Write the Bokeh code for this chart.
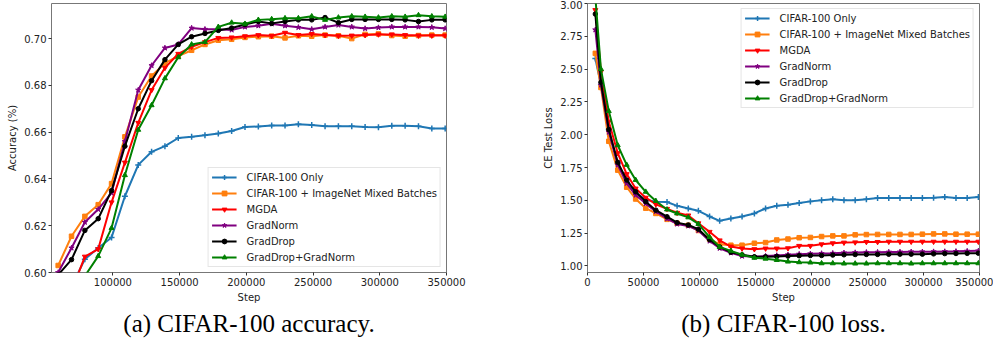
from bokeh.plotting import figure
from bokeh.layouts import row
from bokeh.models import FixedTicker, BasicTickFormatter, PrintfTickFormatter, Range1d
from bokeh.embed import file_html
from bokeh.resources import INLINE

# ---------------- data ----------------
SERIES = ["CIFAR-100 Only", "CIFAR-100 + ImageNet Mixed Batches", "MGDA",
          "GradNorm", "GradDrop", "GradDrop+GradNorm"]
COLORS = ["#1f77b4", "#ff7f0e", "#ff0000", "#800080", "#000000", "#008000"]
MARKERS = ["cross", "square", "inverted_triangle", "star", "circle", "triangle"]

ACC_STEPS = [59000, 69000, 79000, 89000, 99000, 109000, 119000, 129000, 139000, 149000,
             159000, 169000, 179000, 189000, 199000, 209000, 219000, 229000, 239000, 249000,
             259000, 269000, 279000, 289000, 299000, 309000, 319000, 329000, 339000, 349000]

acc_only = [0.575, 0.594, 0.6057, 0.6105, 0.6150, 0.6326, 0.6460, 0.6516, 0.6540, 0.6575,
            0.6580, 0.6587, 0.6594, 0.6605, 0.6622, 0.6624, 0.6628, 0.6628, 0.6634, 0.6631,
            0.6625, 0.6625, 0.6625, 0.6622, 0.6621, 0.6627, 0.6627, 0.6625, 0.6616, 0.6616]
acc_mixed = [0.603, 0.6155, 0.6240, 0.6290, 0.6380, 0.6580, 0.6750, 0.6840, 0.6895, 0.6925,
             0.6950, 0.6975, 0.6993, 0.6997, 0.7005, 0.7008, 0.7010, 0.7003, 0.7012, 0.7010,
             0.7015, 0.7012, 0.7000, 0.7018, 0.7020, 0.7013, 0.7010, 0.7013, 0.7015, 0.7015]
acc_mgda = [0.570, 0.592, 0.6068, 0.6100, 0.6300, 0.6470, 0.6640, 0.6780, 0.6875, 0.6935,
            0.6965, 0.6985, 0.7003, 0.7005, 0.7010, 0.7015, 0.7012, 0.7025, 0.7015, 0.7020,
            0.7015, 0.7012, 0.7013, 0.7015, 0.7018, 0.7018, 0.7015, 0.7013, 0.7013, 0.7013]
acc_gradnorm = [0.600, 0.6105, 0.6215, 0.6270, 0.6340, 0.6560, 0.6780, 0.6885, 0.6960, 0.6975,
                0.7045, 0.7040, 0.7040, 0.7037, 0.7050, 0.7055, 0.7063, 0.7055, 0.7048, 0.7040,
                0.7050, 0.7058, 0.7050, 0.7043, 0.7047, 0.7050, 0.7050, 0.7050, 0.7048, 0.7043]
acc_graddrop = [0.599, 0.6055, 0.6180, 0.6230, 0.6350, 0.6540, 0.6700, 0.6820, 0.6910, 0.6975,
                0.7008, 0.7022, 0.7035, 0.7045, 0.7060, 0.7073, 0.7065, 0.7073, 0.7080, 0.7080,
                0.7090, 0.7068, 0.7082, 0.7082, 0.7082, 0.7082, 0.7080, 0.7073, 0.7080, 0.7080]
acc_both = [0.560, 0.585, 0.5985, 0.6070, 0.6190, 0.6416, 0.6610, 0.6715, 0.6830, 0.6920,
            0.6975, 0.6985, 0.7050, 0.7068, 0.7063, 0.7080, 0.7083, 0.7087, 0.7087, 0.7095,
            0.7080, 0.7090, 0.7095, 0.7093, 0.7090, 0.7095, 0.7093, 0.7100, 0.7095, 0.7093]

LOSS_STEPS = [7000, 12000, 19000, 27000, 35000, 43000, 52000, 61000,
              71000, 80000, 90000, 99000, 109000, 118000, 128000, 138000,
              149000, 159000, 169000, 179000, 189000, 199000, 209000, 219000, 229000,
              239000, 249000, 259000, 269000, 279000, 289000, 299000, 309000, 319000,
              329000, 339000, 349000]

loss_only = [2.58, 2.38, 2.04, 1.78, 1.64, 1.555, 1.505, 1.49,
             1.487, 1.458, 1.438, 1.42, 1.377, 1.344, 1.362, 1.377,
             1.40, 1.438, 1.458, 1.466, 1.479, 1.492, 1.50, 1.509, 1.50, 1.50, 1.509,
             1.517, 1.517, 1.517, 1.517, 1.517, 1.52, 1.525, 1.517, 1.517, 1.525]
loss_mixed = [2.62, 2.36, 1.95, 1.73, 1.60, 1.51, 1.44, 1.40,
              1.355, 1.325, 1.31, 1.27, 1.205, 1.165, 1.158, 1.158,
              1.173, 1.178, 1.198, 1.205, 1.215, 1.217, 1.224, 1.229, 1.229, 1.237, 1.239,
              1.24, 1.24, 1.24, 1.24, 1.242, 1.244, 1.244, 1.242, 1.242, 1.242]
loss_mgda = [2.95, 2.48, 2.10, 1.86, 1.70, 1.59, 1.52, 1.47,
             1.435, 1.405, 1.385, 1.325, 1.26, 1.195, 1.148, 1.133,
             1.128, 1.133, 1.133, 1.135, 1.153, 1.153, 1.165, 1.173, 1.178, 1.18, 1.183,
             1.183, 1.185, 1.185, 1.185, 1.185, 1.185, 1.185, 1.185, 1.185, 1.185]
loss_gradnorm = [2.80, 2.38, 2.02, 1.77, 1.63, 1.54, 1.475, 1.415,
                 1.36, 1.32, 1.305, 1.27, 1.19, 1.135, 1.10, 1.075,
                 1.07, 1.075, 1.08, 1.085, 1.09, 1.093, 1.095, 1.097, 1.10, 1.102, 1.104,
                 1.105, 1.106, 1.107, 1.108, 1.108, 1.109, 1.11, 1.111, 1.113, 1.115]
loss_graddrop = [2.92, 2.40, 2.04, 1.79, 1.655, 1.565, 1.49, 1.425,
                 1.375, 1.33, 1.312, 1.28, 1.20, 1.145, 1.105, 1.085,
                 1.07, 1.07, 1.072, 1.075, 1.078, 1.08, 1.08, 1.083, 1.085, 1.087, 1.088,
                 1.088, 1.089, 1.09, 1.09, 1.09, 1.092, 1.094, 1.095, 1.096, 1.097]
loss_both = [3.05, 2.50, 2.18, 1.92, 1.77, 1.655, 1.565, 1.495,
             1.43, 1.40, 1.37, 1.32, 1.22, 1.145, 1.115, 1.085,
             1.062, 1.055, 1.045, 1.033, 1.028, 1.026, 1.02, 1.02, 1.018, 1.018, 1.018,
             1.02, 1.02, 1.02, 1.018, 1.02, 1.02, 1.02, 1.02, 1.02, 1.02]

ACC_X_TICKS = [100000, 150000, 200000, 250000, 300000, 350000]
ACC_Y_TICKS = [0.60, 0.62, 0.64, 0.66, 0.68, 0.70]
LOSS_X_TICKS = [0, 50000, 100000, 150000, 200000, 250000, 300000, 350000]
LOSS_Y_TICKS = [1.00, 1.25, 1.50, 1.75, 2.00, 2.25, 2.50, 2.75, 3.00]

ACC = [acc_only, acc_mixed, acc_mgda, acc_gradnorm, acc_graddrop, acc_both]
LOSS = [loss_only, loss_mixed, loss_mgda, loss_gradnorm, loss_graddrop, loss_both]

MSIZE = {"cross": 6, "square": 4.5, "inverted_triangle": 5, "star": 5.5, "circle": 4.5, "triangle": 5}


def make_fig(width, height, xr, yr, steps, data, xticks, yticks, ylabel, caption,
             legend_loc, top, left, right):
    p = figure(width=width, height=height, x_range=Range1d(*xr), y_range=Range1d(*yr),
               output_backend="svg", toolbar_location=None,
               title=caption, title_location="below",
               min_border_left=left, min_border_right=right, min_border_top=top,
               min_border_bottom=10)
    p.background_fill_color = "white"
    p.border_fill_color = "white"
    p.grid.visible = False
    p.outline_line_color = "#777777"
    p.outline_line_width = 1

    for name, col, mk, vals in zip(SERIES, COLORS, MARKERS, data):
        p.line(steps, vals, line_color=col, line_width=2, legend_label=name)
        if mk == "cross":
            p.scatter(steps, vals, marker=mk, size=MSIZE[mk], line_color=col,
                      line_width=1.5, legend_label=name)
        else:
            p.scatter(steps, vals, marker=mk, size=MSIZE[mk], fill_color=col,
                      line_color=col, legend_label=name)

    p.xaxis.ticker = FixedTicker(ticks=xticks)
    p.yaxis.ticker = FixedTicker(ticks=yticks)
    p.xaxis.formatter = BasicTickFormatter(use_scientific=False)
    p.yaxis.formatter = PrintfTickFormatter(format="%.2f")
    p.xaxis.axis_label = "Step"
    p.yaxis.axis_label = ylabel
    for ax in (p.xaxis[0], p.yaxis[0]):
        ax.axis_line_color = None
        ax.major_tick_line_color = "#333333"
        ax.major_tick_out = 3
        ax.major_tick_in = 0
        ax.minor_tick_line_color = None
        ax.major_label_text_font = "DejaVu Sans"
        ax.major_label_text_font_size = "10px"
        ax.major_label_text_color = "#222222"
        ax.axis_label_text_font = "DejaVu Sans"
        ax.axis_label_text_font_size = "10px"
        ax.axis_label_text_font_style = "normal"
        ax.axis_label_text_color = "#222222"
        ax.major_label_standoff = 2
        ax.axis_label_standoff = 3

    lg = p.legend[0]
    lg.location = legend_loc
    lg.margin = 5
    lg.padding = 3
    lg.spacing = 4
    lg.label_height = 12
    lg.glyph_height = 12
    lg.glyph_width = 25
    lg.label_standoff = 10
    lg.label_text_font = "DejaVu Sans"
    lg.label_text_font_size = "10px"
    lg.label_text_color = "#222222"
    lg.border_line_color = "#cccccc"
    lg.border_line_width = 1
    lg.background_fill_alpha = 0.85

    p.title.text_font = "Liberation Serif"
    p.title.text_font_size = "25px"
    p.title.text_font_style = "normal"
    p.title.text_color = "#000000"
    p.title.align = "center"
    p.title.standoff = 4
    return p


p1 = make_fig(540, 338, (54000, 350000), (0.60, 0.715), ACC_STEPS, ACC,
              ACC_X_TICKS, ACC_Y_TICKS, "Accuracy (%)", "(a) CIFAR-100 accuracy.",
              "bottom_right", 1, 51, 94)
p2 = make_fig(453, 338, (0, 350000), (0.95, 3.0), LOSS_STEPS, LOSS,
              LOSS_X_TICKS, LOSS_Y_TICKS, "CE Test Loss", "(b) CIFAR-100 loss.",
              "top_right", 3, 45, 14)

layout = row(p1, p2)
open("out.html", "w").write(file_html(layout, INLINE))
